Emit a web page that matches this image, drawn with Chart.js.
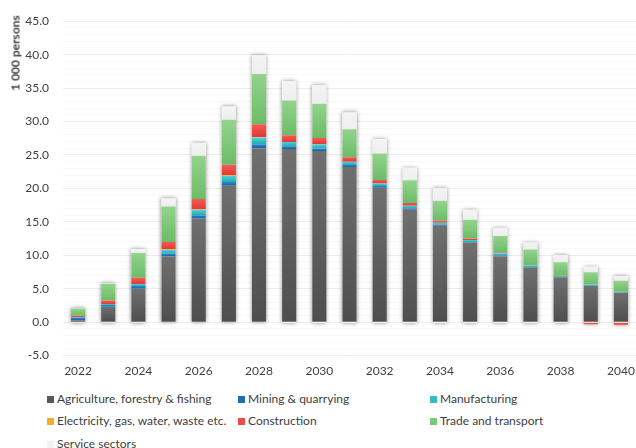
<!DOCTYPE html>
<html>
<head>
<meta charset="utf-8">
<script src="https://cdn.jsdelivr.net/npm/chart.js@4.4.1/dist/chart.umd.min.js"></script>
<style>
  html, body { margin: 0; padding: 0; background: #fff; width: 636px; height: 448px; overflow: hidden; }
  #wrap { position: relative; width: 636px; height: 448px; font-family: Lato, sans-serif; color: #404040; }
  #c { position: absolute; left: 0; top: 0; }
  #ytitle { position: absolute; left: 15px; top: 53px; transform: translate(-50%, -50%) rotate(-90deg);
    font-size: 12px; font-weight: bold; white-space: nowrap; }
  .lg { position: absolute; font-size: 12px; white-space: nowrap; line-height: 14px; }
  .lg i { position: absolute; left: -10px; top: 4px; width: 7px; height: 7px; }
</style>
</head>
<body>
<div id="wrap">
  <canvas id="c" width="636" height="378"></canvas>
  <div id="ytitle">1 000 persons</div>
  <div id="legend"></div>
</div>
<script>
// anos e séries (1 000 pessoas)
const years = ['2022', '2023', '2024', '2025', '2026', '2027', '2028', '2029', '2030', '2031',
  '2032', '2033', '2034', '2035', '2036', '2037', '2038', '2039', '2040'];
const agriculture = [0.3, 2.3, 5.0, 9.8, 15.5, 20.4, 26.0, 25.9, 25.6, 23.2, 20.1, 16.8, 14.4, 11.9, 9.8, 8.2, 6.7, 5.4, 4.4];
const mining = [0.35, 0.25, 0.4, 0.45, 0.5, 0.55, 0.6, 0.4, 0.35, 0.3, 0.25, 0.25, 0.15, 0.1, 0.2, 0.05, 0.05, 0.05, 0.05];
const manufacturing = [0.1, 0.15, 0.3, 0.55, 0.8, 0.9, 1.0, 0.65, 0.65, 0.5, 0.4, 0.35, 0.3, 0.3, 0.3, 0.25, 0.15, 0.15, 0.1];
const electricity = [-0.08, -0.08, -0.08, 0.1, 0.1, 0.1, 0.1, -0.1, -0.1, -0.1, -0.1, -0.1, -0.1, -0.1, -0.1, -0.1, -0.08, -0.08, -0.08];
const construction = [0.2, 0.55, 0.95, 1.1, 1.5, 1.6, 1.9, 1.0, 0.95, 0.65, 0.5, 0.4, 0.3, 0.2, 0.1, 0.05, 0.05, -0.25, -0.3];
const trade = [1.1, 2.5, 3.7, 5.3, 6.5, 6.7, 7.5, 5.2, 5.1, 4.2, 3.95, 3.4, 3.0, 2.8, 2.5, 2.3, 2.0, 1.85, 1.65];
const services = [0.05, 0.1, 0.6, 1.2, 1.9, 2.0, 2.8, 2.9, 2.8, 2.5, 2.2, 1.9, 1.9, 1.5, 1.2, 1.05, 1.05, 0.85, 0.7];
const yTicks = [-5, 0, 5, 10, 15, 20, 25, 30, 35, 40, 45];

const series = [
  { label: 'Agriculture, forestry & fishing', data: agriculture, light: '#707070', dark: '#4e4e4e', key: '#595959' },
  { label: 'Mining & quarrying', data: mining, light: '#2f86cc', dark: '#1560a8', key: '#1f6fb8' },
  { label: 'Manufacturing', data: manufacturing, light: '#4fd0d4', dark: '#22aab2', key: '#33bcc2' },
  { label: 'Electricity, gas, water, waste etc.', data: electricity, light: '#f9c04a', dark: '#e0b060', key: '#f5ac2a' },
  { label: 'Construction', data: construction, light: '#f45a54', dark: '#e03a36', key: '#ee4a46' },
  { label: 'Trade and transport', data: trade, light: '#93d38d', dark: '#6cbc67', key: '#7fc879' },
  { label: 'Service sectors', data: services, light: '#f4f4f4', dark: '#eeeeee', key: '#f2f2f2' }
];

// base e topo de cada segmento empilhado
function segRange(di, i) {
  let base = 0;
  const v = series[di].data[i];
  for (let k = 0; k < di; k++) {
    const w = series[k].data[i];
    if ((w >= 0) === (v >= 0)) base += w;
  }
  return [base, base + v];
}

function gradFor(di) {
  return function (ctx) {
    const chart = ctx.chart;
    if (!chart.chartArea || ctx.type !== 'data') return series[di].key;
    const y = chart.scales.y;
    const r = segRange(di, ctx.dataIndex);
    const hi = Math.max(r[0], r[1]), lo = Math.min(r[0], r[1]);
    const y0 = y.getPixelForValue(hi), y1 = y.getPixelForValue(lo);
    if (!isFinite(y0) || !isFinite(y1) || y1 - y0 < 1) return series[di].key;
    const g = chart.ctx.createLinearGradient(0, y0, 0, y1);
    g.addColorStop(0, series[di].light);
    g.addColorStop(1, series[di].dark);
    return g;
  };
}

// sombra em volta das barras
const shadowPlugin = {
  id: 'barShadow',
  beforeDatasetsDraw(chart) {
    const meta = chart.getDatasetMeta(0);
    const y = chart.scales.y;
    const c = chart.ctx;
    c.save();
    c.shadowColor = 'rgba(0,0,0,0.45)';
    c.shadowBlur = 4;
    c.fillStyle = '#ffffff';
    meta.data.forEach((el, i) => {
      let pos = 0, neg = 0;
      series.forEach(s => { if (s.data[i] >= 0) pos += s.data[i]; else neg += s.data[i]; });
      const top = y.getPixelForValue(pos), bot = y.getPixelForValue(neg);
      c.fillRect(el.x - el.width / 2, top, el.width, bot - top);
    });
    c.restore();
  }
};

Chart.defaults.font.family = 'Lato, sans-serif';
Chart.defaults.font.size = 12;
Chart.defaults.color = '#404040';

new Chart(document.getElementById('c'), {
  type: 'bar',
  data: {
    labels: years,
    datasets: series.map((s, di) => ({
      label: s.label,
      data: s.data,
      backgroundColor: gradFor(di),
      borderWidth: 0,
      barPercentage: 0.47,
      categoryPercentage: 1
    }))
  },
  options: {
    responsive: false,
    animation: false,
    layout: { padding: { top: 4, right: 0, bottom: 0, left: 0 } },
    plugins: { legend: { display: false }, tooltip: { enabled: false } },
    scales: {
      x: {
        stacked: true,
        grid: { display: false },
        border: { display: false },
        ticks: {
          autoSkip: false,
          maxRotation: 0,
          padding: 0,
          callback: (v, i) => (i % 2 === 0 ? years[i] : '')
        }
      },
      y: {
        stacked: true,
        min: -5,
        max: 45,
        border: { display: false },
        grid: {
          drawTicks: false,
          color: ctx => (yTicks.includes(ctx.tick.value) ? '#ececec' : '#f8f8f8')
        },
        ticks: {
          stepSize: 1,
          autoSkip: false,
          maxTicksLimit: 100,
          padding: 14,
          callback: v => (yTicks.includes(v) ? v.toFixed(1) : '')
        },
        afterFit: scale => { scale.width = 63; }
      }
    }
  },
  plugins: [shadowPlugin]
});

// legenda em colunas
const legendPos = [
  [57, 399], [248, 399], [440, 399],
  [57, 421], [248, 421], [440, 421],
  [57, 444]
];
const legend = document.getElementById('legend');
series.forEach((s, i) => {
  const d = document.createElement('div');
  d.className = 'lg';
  d.style.left = legendPos[i][0] + 'px';
  d.style.top = (legendPos[i][1] - 7) + 'px';
  d.innerHTML = '<i style="background:' + s.key + '"></i>' + s.label;
  legend.appendChild(d);
});
</script>
</body>
</html>
